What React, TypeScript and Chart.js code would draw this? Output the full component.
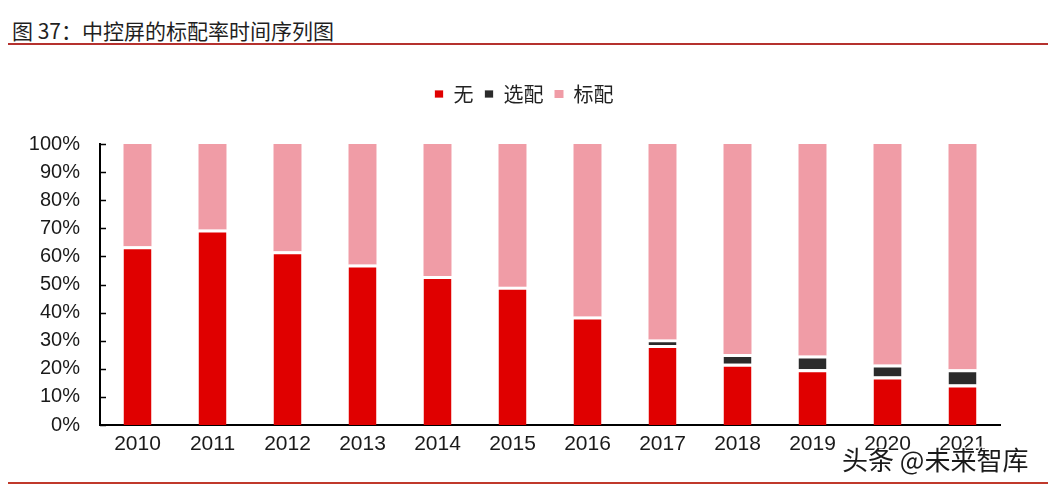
import React, { useEffect, useRef } from "react";
import { Chart, registerables } from "chart.js";

Chart.register(...registerables);

const years = ["2010", "2011", "2012", "2013", "2014", "2015", "2016", "2017", "2018", "2019", "2020", "2021"];
const noneValues = [63.6, 69.6, 61.8, 57.1, 53.0, 49.2, 38.6, 28.5, 21.8, 19.8, 17.3, 14.4];
const optionalValues = [0, 0, 0, 0, 0, 0, 0, 1.9, 3.5, 4.9, 4.2, 5.4];
const standardValues = [36.4, 30.4, 38.2, 42.9, 47.0, 50.8, 61.4, 69.6, 74.7, 75.3, 78.5, 80.2];
const seriesNames = ["无", "选配", "标配"];
const titleText = "图 37：中控屏的标配率时间序列图";
const watermarkText = "头条 @未来智库";

const RED = "#E00000";
const BLACK = "#2B2B2B";
const PINK = "#F09CA6";

export default function App() {
  const canvasRef = useRef<HTMLCanvasElement | null>(null);

  useEffect(() => {
    if (!canvasRef.current) return;
    const innerTicks = {
      id: "innerTicks",
      afterDatasetsDraw(chart: any) {
        const y = chart.scales.y;
        const ctx = chart.ctx;
        const left = chart.chartArea.left;
        ctx.save();
        ctx.strokeStyle = "#000";
        ctx.lineWidth = 1.5;
        y.ticks.forEach((_t: any, i: number) => {
          const py = Math.round(y.getPixelForTick(i)) + 0.5;
          ctx.beginPath();
          ctx.moveTo(left, py);
          ctx.lineTo(left + 6, py);
          ctx.stroke();
        });
        ctx.restore();
      },
    };
    const legendMargin = {
      id: "legendMargin",
      beforeInit(chart: any) {
        const orig = chart.legend.fit;
        chart.legend.fit = function () {
          orig.bind(chart.legend)();
          this.height += 30;
        };
      },
    };
    const chart = new Chart(canvasRef.current, {
      type: "bar",
      data: {
        labels: years,
        datasets: [
          {
            label: seriesNames[0],
            data: noneValues,
            backgroundColor: RED,
            borderColor: "#ffffff",
            borderWidth: { top: 3, bottom: 0, left: 0, right: 0 },
            borderSkipped: false,
          },
          {
            label: seriesNames[1],
            data: optionalValues,
            backgroundColor: BLACK,
            borderColor: "#ffffff",
            borderWidth: { top: 3, bottom: 0, left: 0, right: 0 },
            borderSkipped: false,
          },
          {
            label: seriesNames[2],
            data: standardValues,
            backgroundColor: PINK,
            borderWidth: 0,
          },
        ],
      },
      options: {
        responsive: false,
        animation: false,
        layout: { padding: { top: 23, right: 0, left: 0, bottom: 0 } },
        datasets: {
          bar: { categoryPercentage: 1, barPercentage: 0.373 },
        },
        plugins: {
          legend: {
            position: "top",
            labels: {
              boxWidth: 9,
              boxHeight: 8,
              padding: 11,
              color: "#222",
              font: { size: 20, family: "'Noto Sans CJK SC', sans-serif" },
            },
          },
          tooltip: { enabled: false },
        },
        scales: {
          x: {
            stacked: true,
            grid: { display: false },
            border: { display: true, color: "#000", width: 2 },
            ticks: {
              color: "#1a1a1a",
              padding: -1,
              font: { size: 21, family: "'Liberation Sans', Arial, sans-serif" },
            },
            afterFit(scale: any) {
              scale.height = 45;
            },
          },
          y: {
            stacked: true,
            min: 0,
            max: 100,
            grid: { display: false },
            border: { display: true, color: "#000", width: 2 },
            ticks: {
              stepSize: 10,
              color: "#1a1a1a",
              padding: 12,
              font: { size: 20, family: "'Liberation Sans', Arial, sans-serif" },
              callback: (v: any) => v + "%",
            },
            afterFit(scale: any) {
              scale.width = 100;
            },
          },
          yRight: {
            position: "right",
            display: true,
            min: 0,
            max: 100,
            grid: { display: false },
            border: { display: false },
            ticks: { display: false },
            afterFit(scale: any) {
              scale.width = 48;
            },
          },
        },
      },
      plugins: [legendMargin, innerTicks],
    });
    return () => chart.destroy();
  }, []);

  return (
    <div style={{ position: "absolute", left: 0, top: 0, width: 1048, height: 488, background: "#fff", overflow: "hidden" }}>
      <div
        style={{
          position: "absolute",
          left: 12,
          top: 20,
          fontSize: 21,
          lineHeight: "21px",
          fontFamily: "'Noto Sans CJK SC', sans-serif",
          color: "#1f1f1f",
          whiteSpace: "nowrap",
        }}
      >
        {titleText}
      </div>
      <div style={{ position: "absolute", left: 8, top: 43, width: 1040, height: 2, background: "#B5312E" }} />
      <canvas ref={canvasRef} width={1048} height={420} style={{ position: "absolute", left: 0, top: 50 }} />
      <div
        style={{
          position: "absolute",
          left: 842,
          top: 446,
          fontSize: 26,
          lineHeight: "26px",
          fontFamily: "'Noto Sans CJK SC', sans-serif",
          color: "#1a1a1a",
          whiteSpace: "nowrap",
          textShadow: "1px 1px 0 #fff, -1px -1px 0 #fff, 1px -1px 0 #fff, -1px 1px 0 #fff",
        }}
      >
        {watermarkText}
      </div>
      <div style={{ position: "absolute", left: 8, top: 482, width: 1040, height: 2, background: "#C0392B" }} />
    </div>
  );
}
